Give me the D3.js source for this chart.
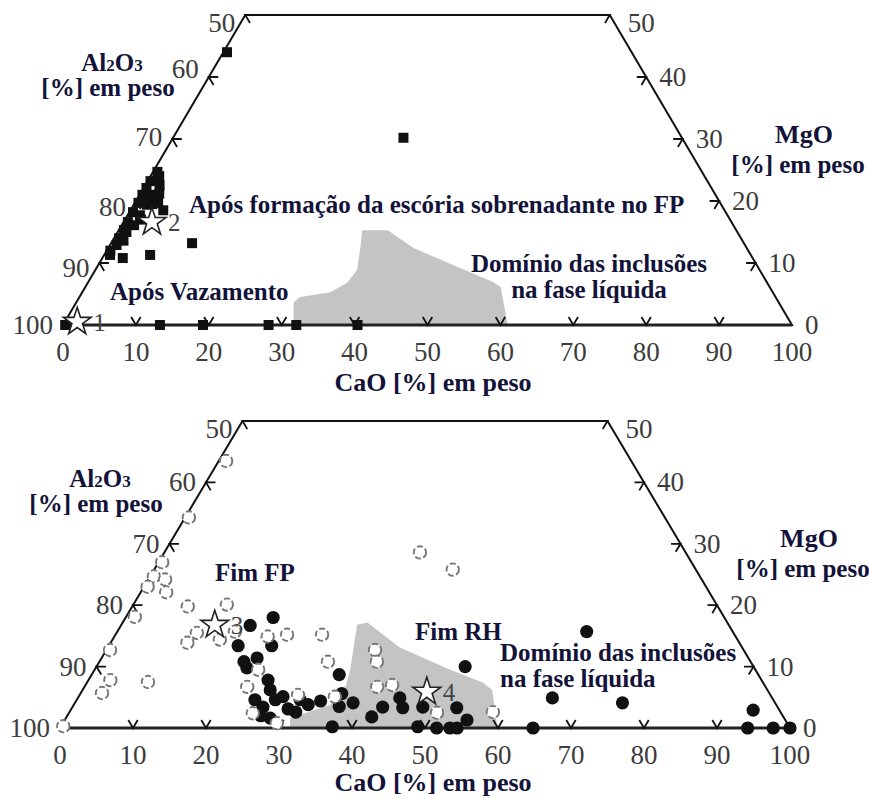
<!DOCTYPE html>
<html>
<head>
<meta charset="utf-8">
<script src="https://cdn.jsdelivr.net/npm/d3@7"></script>
<style>body{margin:0;background:#fff}</style>
</head>
<body>
<div id="container"></div>
<script>
const width = 869
const height = 799

// tick values of the three axes
const caoTicks = [0, 10, 20, 30, 40, 50, 60, 70, 80, 90, 100]
const al2o3Ticks = [100, 90, 80, 70, 60, 50]
const mgoTicks = [0, 10, 20, 30, 40, 50]

// points are [CaO %, MgO %], Al2O3 is the rest
const topSquares = [
  [0.5, 44.0], [31.6, 30.2],
  [0.6, 24.7], [0.4, 23.2], [0.4, 22.1], [0.4, 21.0], [1.5, 21.0], [0.5, 19.7],
  [1.8, 19.4], [3.2, 19.7], [0.5, 18.2], [1.7, 17.7], [0.6, 16.6], [1.7, 16.1],
  [0.7, 15.3], [0.7, 14.0], [0.9, 12.9], [4.5, 18.5],
  [1.2, 15.0], [1.5, 13.6], [2.2, 17.0], [2.5, 19.5], [1.0, 20.3], [2.0, 22.5],
  [1.2, 24.0], [0.5, 12.0], [0.8, 11.3], [2.6, 21.2],
  [11.1, 13.2], [2.8, 10.8], [6.3, 11.3],
  [0.3, 0], [13.3, 0], [19.2, 0], [28.2, 0], [32.0, 0], [40.4, 0]
]
const topStars = [
  { label: '1', cao: 1.7, mgo: 0.5 },
  { label: '2', cao: 3.9, mgo: 16.6 }
]
const topLiquid = [
  [31.6, 0], [29.8, 3.7], [30.3, 4.5], [34.0, 5.3], [35.6, 6.8], [35.9, 8.9],
  [34.5, 12.6], [33.4, 15.3], [36.9, 15.3], [41.9, 12.4], [55.6, 6.9],
  [57.0, 6.1], [61.0, 0]
]

const bottomOpen = [
  [1.0, 43.5], [0.5, 34.3], [0.5, 27.0], [0.5, 24.7], [2.3, 24.2], [3.5, 22.1],
  [0.5, 23.0], [7.6, 19.8], [1.2, 18.1], [12.8, 20.1], [10.5, 13.9], [11.0, 15.5],
  [14.7, 14.4], [0.5, 12.7], [3.0, 7.8], [2.9, 5.7], [8.3, 7.5], [22.3, 6.7],
  [25.2, 2.4], [21.0, 14.9], [23.5, 15.2], [28.3, 15.2], [31.3, 10.8], [22.4, 9.5],
  [36.8, 12.7], [38.0, 10.8], [40.1, 6.7], [42.0, 7.0], [29.9, 5.4], [35.1, 5.1],
  [50.4, 2.5], [29.3, 0.8], [35.0, 28.6], [40.9, 25.8], [58.0, 2.6], [16.1, 15.7],
  [0.3, 0.3]
]
const bottomFilled = [
  [20.2, 18.0], [17.7, 16.7], [17.7, 13.4], [22.3, 13.4], [19.8, 10.8], [21.3, 11.4],
  [20.7, 9.8], [24.6, 7.8], [25.7, 6.2], [26.1, 3.4], [27.2, 4.6], [28.0, 5.1],
  [29.7, 3.1], [32.1, 3.8], [33.5, 4.4], [33.9, 8.7], [35.8, 5.6], [38.1, 4.1],
  [37.2, 0.2], [41.8, 1.8], [42.5, 3.4], [44.1, 4.9], [45.3, 3.3], [48.0, 3.4],
  [48.9, 0.2], [51.6, 0], [53.4, 0], [54.4, 0], [52.7, 3.3], [55.1, 1.3],
  [50.5, 10.0], [64.3, 15.7], [65.0, 4.9], [75.0, 4.1], [93.5, 2.9], [64.8, 0],
  [94.2, 0], [97.7, 0], [100, 0], [28.0, 1.6], [24.4, 4.6], [30.6, 4.6],
  [31.0, 2.6], [36.5, 3.5], [26.5, 2.0]
]
const bottomStars = [
  { label: '3', cao: 12.8, mgo: 16.8 },
  { label: '4', cao: 47.3, mgo: 5.9 }
]
const bottomLiquid = [
  [31.5, 0], [30.7, 1.6], [35.1, 3.8], [35.9, 6.2], [35.0, 9.5], [32.3, 16.8],
  [33.5, 17.2], [40.0, 13.1], [48.7, 9.5], [54.2, 7.4], [56.1, 6.2], [59.9, 0]
]

const ink = '#13133a'

const svg = d3.select('#container')
  .append('svg')
  .attr('width', width)
  .attr('height', height)
  .style('font-family', '"Liberation Serif", "DejaVu Serif", serif')

function drawPanel (p) {
  const x = d3.scaleLinear().domain([0, 100]).range([p.x0, p.x1])
  const y = d3.scaleLinear().domain([0, 50]).range([p.y0, p.y0 - p.h50])
  const px = d => x(d[0] + d[1] / 2)
  const py = d => y(d[1])
  const closed = d3.line().x(px).y(py).curve(d3.curveLinearClosed)
  const g = svg.append('g')

  g.append('path')
    .datum(p.liquid)
    .attr('d', closed)
    .attr('fill', '#c4c4c4')

  g.append('path')
    .datum([[0, 0], [100, 0], [50, 50], [0, 50]])
    .attr('d', closed)
    .attr('fill', 'none')
    .attr('stroke', '#111')
    .attr('stroke-width', 2)
    .attr('stroke-linejoin', 'miter')

  g.append('line')
    .attr('x1', x(0)).attr('x2', x(100))
    .attr('y1', y(0)).attr('y2', y(0))
    .attr('stroke', '#222')
    .attr('stroke-width', 3.2)

  // chevron ticks, arms follow the grid directions
  const t = 1.3
  const chevrons = []
  caoTicks.filter(c => c > 0 && c < 100).forEach(c => {
    chevrons.push([[c, t], [c, 0], [c - t, t]])
  })
  al2o3Ticks.filter(a => a < 100).forEach(a => {
    const m = 100 - a
    chevrons.push([[t, m], [0, m], [t, m - t]])
  })
  mgoTicks.filter(m => m > 0).forEach(m => {
    const c = 100 - m
    chevrons.push([[c - t, m], [c, m], [c, m - t]])
  })
  g.selectAll('.tick')
    .data(chevrons)
    .enter()
    .append('path')
    .attr('d', d3.line().x(px).y(py))
    .attr('fill', 'none')
    .attr('stroke', '#111')
    .attr('stroke-width', 1.8)

  const tickText = sel => sel
    .attr('font-size', 27)
    .attr('fill', '#3c3c3c')
    .text(d => d)

  g.selectAll('.cao-label')
    .data(caoTicks)
    .enter()
    .append('text')
    .attr('x', d => x(d))
    .attr('y', y(0) + 36)
    .attr('text-anchor', 'middle')
    .call(tickText)

  // small nudges where the scanned labels sit off their ticks
  const alDy = p.alDy || {}
  g.selectAll('.al-label')
    .data(al2o3Ticks)
    .enter()
    .append('text')
    .attr('x', d => px([0, 100 - d]) - 10)
    .attr('y', d => py([0, 100 - d]) + (d in alDy ? alDy[d] : 9))
    .attr('text-anchor', 'end')
    .call(tickText)

  g.selectAll('.mg-label')
    .data(mgoTicks)
    .enter()
    .append('text')
    .attr('x', d => px([100 - d, d]) + (d === 50 ? 18 : 13))
    .attr('y', d => py([100 - d, d]) + (d === 50 ? 17 : 9))
    .call(tickText)

  if (p.squares) {
    g.selectAll('.sq')
      .data(p.squares)
      .enter()
      .append('path')
      .attr('transform', d => `translate(${px(d)},${py(d)})`)
      .attr('d', d3.symbol(d3.symbolSquare, 100))
      .attr('fill', '#111')
  }
  if (p.filled) {
    g.selectAll('.fc')
      .data(p.filled)
      .enter()
      .append('circle')
      .attr('cx', px)
      .attr('cy', py)
      .attr('r', 6.6)
      .attr('fill', '#111')
  }
  if (p.open) {
    g.selectAll('.oc')
      .data(p.open)
      .enter()
      .append('circle')
      .attr('cx', px)
      .attr('cy', py)
      .attr('r', 6.2)
      .attr('fill', '#fff')
      .attr('stroke', '#777')
      .attr('stroke-width', 1.9)
      .attr('stroke-dasharray', '6,2.5')
  }

  const stars = g.selectAll('.star')
    .data(p.stars)
    .enter()
    .append('g')
    .attr('transform', d => `translate(${px([d.cao, d.mgo])},${py([d.cao, d.mgo])})`)
  stars.append('path')
    .attr('d', d3.symbol(d3.symbolStar, 240))
    .attr('fill', '#fff')
    .attr('stroke', '#222')
    .attr('stroke-width', 1.6)
  stars.append('text')
    .attr('x', 16)
    .attr('y', 9)
    .attr('font-size', 25)
    .attr('fill', '#444')
    .text(d => d.label)

  p.notes.forEach(n => {
    g.append('text')
      .attr('x', n.x)
      .attr('y', n.y)
      .attr('text-anchor', n.anchor || 'start')
      .attr('font-size', 25)
      .attr('font-weight', 'bold')
      .attr('fill', ink)
      .text(n.text)
  })

  const al = g.append('text')
    .attr('x', p.alTitle[0])
    .attr('y', p.alTitle[1])
    .attr('text-anchor', 'middle')
    .attr('font-size', 25)
    .attr('font-weight', 'bold')
    .attr('fill', ink)
  al.append('tspan').text('Al')
  al.append('tspan').attr('font-size', 17).text('2')
  al.append('tspan').text('O')
  al.append('tspan').attr('font-size', 17).text('3')

  const title = (txt, pos, size) => g.append('text')
    .attr('x', pos[0])
    .attr('y', pos[1])
    .attr('text-anchor', 'middle')
    .attr('font-size', size || 25)
    .attr('font-weight', 'bold')
    .attr('fill', ink)
    .text(txt)
  title('[%] em peso', [p.alTitle[0] - 4, p.alTitle[1] + 25])
  title('MgO', p.mgTitle, 26)
  title('[%] em peso', [p.mgTitle[0] - 6, p.mgTitle[1] + 30])
  title('CaO [%] em peso', p.caTitle, 26)
}

drawPanel({
  x0: 63, x1: 792, y0: 325, h50: 310,
  liquid: topLiquid,
  squares: topSquares,
  stars: topStars,
  alDy: { 50: 17, 60: 1, 70: 7, 80: 15, 90: 14 },
  notes: [
    { text: 'Após formação da escória sobrenadante no FP', x: 189, y: 213 },
    { text: 'Após Vazamento', x: 110, y: 300 },
    { text: 'Domínio das inclusões', x: 589, y: 272, anchor: 'middle' },
    { text: 'na fase líquida', x: 589, y: 298, anchor: 'middle' }
  ],
  alTitle: [112, 71],
  mgTitle: [804, 143],
  caTitle: [433, 391]
})

drawPanel({
  x0: 60, x1: 790, y0: 728, h50: 307,
  liquid: bottomLiquid,
  filled: bottomFilled,
  open: bottomOpen,
  stars: bottomStars,
  alDy: { 50: 17 },
  notes: [
    { text: 'Fim FP', x: 215, y: 581 },
    { text: 'Fim RH', x: 415, y: 640 },
    { text: 'Domínio das inclusões', x: 500, y: 661 },
    { text: 'na fase líquida', x: 500, y: 687 }
  ],
  alTitle: [100, 487],
  mgTitle: [809, 547],
  caTitle: [433, 791]
})
</script>
</body>
</html>
